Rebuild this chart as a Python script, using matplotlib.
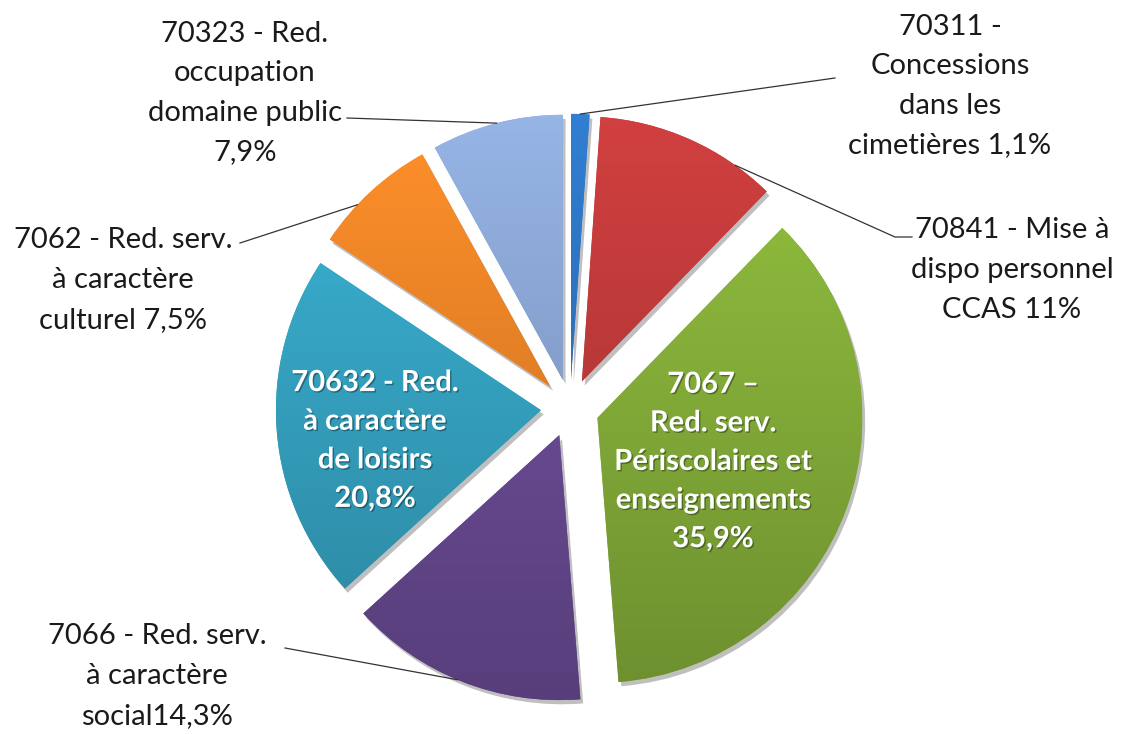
import numpy as np
import matplotlib.pyplot as plt
import matplotlib.patheffects as pe
from matplotlib.colors import LinearSegmentedColormap, to_rgb

plt.rcParams['font.family'] = ['Lato', 'DejaVu Sans']

# données (ordre horaire depuis le haut)
codes = ['70311', '70841', '7067', '7066', '70632', '7062', '70323']
shares = [1.1, 11, 35.9, 14.3, 20.8, 7.5, 7.9]
labels = ['70311 -\nConcessions\ndans les\ncimetières 1,1%',
          '70841 - Mise à\ndispo personnel\nCCAS 11%',
          '7067 –\nRed. serv.\nPériscolaires et\nenseignements\n35,9%',
          '7066 - Red. serv.\nà caractère\nsocial14,3%',
          '70632 - Red.\nà caractère\nde loisirs\n20,8%',
          '7062 - Red. serv.\nà caractère\nculturel 7,5%',
          '70323 - Red.\noccupation\ndomaine public\n7,9%']
colors = ['#2E75C3', '#C23B3B', '#86B03A', '#6B4C96', '#36A5C4', '#EE8527', '#8BA7D5']
inside = [False, False, True, False, True, False, False]

# mise en page en pixels
W, H = 1125, 734
CX, CY, R = 570, 408, 265
text_px = [(950, 86), (1012, 270), (713, 462), (157, 676), (375, 441), (123, 280), (245, 93)]
line_px = [[(835, 78)], [(912, 237), (895, 237)], None, [(285, 648)], None, [(240, 243)], [(347, 118)]]
anchor_frac = [0.5, 0.78, None, 0.52, None, 0.35, 0.5]  # position du trait sur l'arc

def px(x, y):
    return ((x - CX) / R, (CY - y) / R)

def shade(c, f):
    return tuple(np.clip(np.array(to_rgb(c)) * f, 0, 1))

fig = plt.figure(figsize=(W / 100, H / 100), dpi=100)
ax = fig.add_axes([0, 0, 1, 1])

wedges, _ = ax.pie(shares, colors=colors, startangle=90, counterclock=False,
                   explode=[0.11] * len(shares), radius=1)

grad = np.linspace(0, 1, 256).reshape(-1, 1)
for w, c in zip(wedges, colors):
    w.set_zorder(1)
    w.set_path_effects([pe.SimplePatchShadow(offset=(2, -3), shadow_rgbFace='k', alpha=0.25), pe.Normal()])
    cmap = LinearSegmentedColormap.from_list('g', [shade(c, 0.82), shade(c, 1.08)])
    cx, cy = w.center
    im = ax.imshow(grad, cmap=cmap, extent=(cx - 1, cx + 1, cy - 1, cy + 1),
                   origin='lower', aspect='auto', zorder=2)
    im.set_clip_path(w)

for i, w in enumerate(wedges):
    tx, ty = px(*text_px[i])
    if inside[i]:
        ax.text(tx, ty, labels[i], ha='center', va='center', color='white',
                fontsize=21, fontweight='bold', linespacing=1.6, zorder=5,
                path_effects=[pe.SimplePatchShadow(offset=(1, -1), shadow_rgbFace='k', alpha=0.35), pe.Normal()])
        continue
    ax.text(tx, ty, labels[i], ha='center', va='center', color='#1a1a1a',
            fontsize=21, linespacing=1.65, zorder=5)
    # le trait part (dans le sens horaire) à une fraction de l'arc
    ang = np.deg2rad(w.theta2 - anchor_frac[i] * (w.theta2 - w.theta1))
    ax_, ay_ = w.center[0] + w.r * np.cos(ang), w.center[1] + w.r * np.sin(ang)
    pts = [px(*p) for p in line_px[i]] + [(ax_, ay_)]
    ax.plot([p[0] for p in pts], [p[1] for p in pts], color='#333333', lw=0.9, zorder=4)

ax.set_xlim(-CX / R, (W - CX) / R)
ax.set_ylim(-(H - CY) / R, CY / R)
ax.set_aspect('equal')
ax.axis('off')

fig.savefig('out.png', dpi=100)
